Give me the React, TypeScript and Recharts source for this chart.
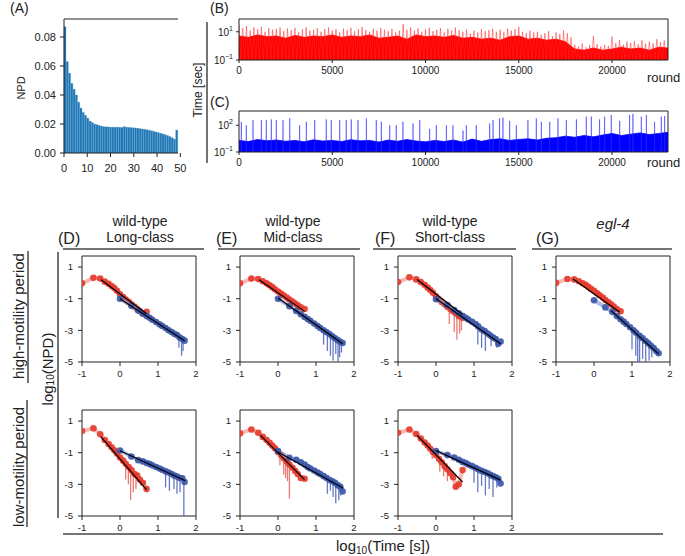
import React from 'react';
import { ComposedChart, Bar, Line, Area, Scatter, XAxis, YAxis, ReferenceLine } from 'recharts';

const FONT = '"Liberation Sans", Arial, Helvetica, sans-serif';
const INK = '#222';

// ---------- Panel A: NPD histogram (bins 0..50) ----------
const npdValues = [
  0.087, 0.063, 0.055, 0.048, 0.044, 0.040, 0.035, 0.031, 0.028, 0.026,
  0.024, 0.022, 0.021, 0.020, 0.0195, 0.019, 0.0185, 0.0182, 0.018, 0.018,
  0.0178, 0.0178, 0.0177, 0.0178, 0.0177, 0.0176, 0.0182, 0.0178, 0.0176, 0.0175,
  0.0174, 0.0172, 0.0170, 0.0168, 0.0165, 0.0163, 0.016, 0.0157, 0.0153, 0.0149,
  0.0145, 0.014, 0.0136, 0.0131, 0.0126, 0.012, 0.0113, 0.0105, 0.0095, 0.0158,
];
const npdTicks = [0, 0.02, 0.04, 0.06, 0.08];
const binTicks = [0, 10, 20, 30, 40, 50];

// ---------- Panel B: high-motility durations per round ----------
const B_PEAK_STEP = 200;
const bPeaks = [
  30, 18, 25, 12, 20, 15, 22, 10, 18, 14,
  16, 20, 11, 17, 13, 19, 9, 15, 21, 12,
  14, 18, 10, 16, 20, 12, 15, 9, 17, 13,
  19, 11, 15, 22, 13, 10, 16, 12, 18, 14,
  11, 16, 9, 12, 35, 14, 20, 12, 17, 10,
  15, 19, 11, 14, 18, 9, 16, 12, 20, 13,
  10, 14, 7, 12, 9, 15, 11, 13, 16, 10,
  14, 9, 17, 12, 15, 22, 10, 8, 12, 9,
  10, 6, 8, 11, 5, 9, 7, 12, 8, 4,
  1.2, 0.9, 1.5, 0.8, 1.1, 5, 1.3, 0.9, 1.2, 1.0,
  4.5, 1.5, 2.5, 1.2, 2, 1.6, 2.2, 1.3, 2.5, 1.4,
  2, 1.5, 3, 1.8, 2.4,
];
const CORE_STEP = 500;
const bCore = [
  5, 4, 6, 4.5, 5, 3.5, 5.5, 4, 5, 4.5, 6,
  4, 5, 4.5, 6, 3.5, 4, 5, 3, 6, 4.5,
  5, 4, 5.5, 3.5, 4, 3, 3.5, 2.5, 4.5, 5,
  3, 3.5, 2.5, 3, 2, 0.6, 0.5, 0.7, 0.5, 0.6,
  0.8, 0.6, 0.7, 0.5, 0.8, 0.7,
];
const FLOOR = 0.1;

// ---------- Panel C: low-motility durations per round ----------
const cCore = [
  2, 1.5, 2.5, 1.8, 2.2, 1.6, 2, 1.4, 2.3, 1.7, 2,
  1.5, 2.4, 1.8, 2, 1.3, 2.2, 1.6, 2.5, 1.7, 1.4,
  2, 1.5, 2.2, 1.3, 2.8, 1.6, 2.5, 3, 2, 2.6,
  3, 2.2, 3.5, 4, 6, 4.5, 7, 5, 8, 12,
  7, 10, 14, 9, 12, 16,
];
const cSpikes = [
  [125, 245], [393, 100], [750, 380], [1200, 380], [1465, 380], [1733, 460], [2000, 380],
  [2360, 380], [2720, 590], [3250, 100], [3610, 245], [4060, 380], [4680, 460], [4950, 380],
  [5400, 380], [5750, 380], [6020, 460], [6380, 380], [6830, 590], [7360, 380], [7630, 245],
  [8080, 100], [8430, 100], [8790, 245], [9330, 156], [9690, 380], [10220, 40], [10580, 100],
  [11120, 100], [11470, 100], [12010, 26], [12190, 100], [12720, 100], [13440, 156], [13620, 380],
  [13970, 590], [14150, 710], [14510, 316], [14870, 100], [15490, 380], [15940, 590], [16210, 245],
  [16660, 245], [17100, 590], [17550, 380], [18090, 460], [18620, 930], [18890, 930], [19330, 460],
  [19600, 930], [19960, 1450], [20410, 316], [20940, 1450], [21120, 1900], [21570, 930], [21840, 1450],
  [22280, 245], [22640, 930], [22820, 1120],
];
const roundTicks = [0, 5000, 10000, 15000, 20000];

// ---------- Panels D-G: log10(NPD) vs log10(Time) ----------
const redX = [-1, -0.7, -0.52, -0.4, -0.3, -0.22, -0.15, -0.08, 0, 0.08, 0.15, 0.23, 0.3, 0.38, 0.45, 0.52, 0.6, 0.7];
const blueX = [0, 0.3, 0.48, 0.6, 0.7, 0.78, 0.85, 0.95, 1.04, 1.11, 1.2, 1.28, 1.36, 1.43, 1.5, 1.57, 1.64, 1.7];
const logTimeTicks = [-1, 0, 1, 2];
const logNpdTicks = [-5, -3, -1, 1];

const dHighRed = [-0.03, 0.32, 0.27, 0.08, -0.05, -0.2, -0.33, -0.5, -0.72, -0.9, -1.05, -1.2, -1.35, -1.5, -1.65, -1.78, -1.95, -1.83];
const dHighBlue = [-1.0, -1.45, -1.75, -1.93, -2.1, -2.2, -2.33, -2.47, -2.62, -2.72, -2.85, -3.0, -3.1, -3.22, -3.3, -3.45, -3.55, -3.65];
const dHighRedDips: number[][] = [];
const dHighBlueDips = [[1.55, -3.42, -4.1], [1.62, -3.52, -4.6], [1.66, -3.58, -4.3]];
const dHighRedFit = [[-0.5, 0.2], [0.7, -1.95]];
const dHighBlueFit = [[0, -1.0], [1.7, -3.65]];

const eHighRed = [-0.03, 0.27, 0.24, 0.1, -0.03, -0.15, -0.27, -0.4, -0.55, -0.68, -0.8, -0.93, -1.05, -1.18, -1.3, -1.42, -1.55, -1.65];
const eHighBlue = [-1.0, -1.47, -1.78, -1.98, -2.15, -2.28, -2.4, -2.57, -2.72, -2.85, -3.0, -3.12, -3.25, -3.38, -3.5, -3.62, -3.72, -3.8];
const eHighRedDips: number[][] = [];
const eHighBlueDips = [[1.2, -3.0, -3.9], [1.3, -3.15, -4.3], [1.38, -3.28, -4.6], [1.45, -3.4, -4.9], [1.52, -3.52, -4.5], [1.58, -3.62, -5.2], [1.62, -3.7, -4.7], [1.67, -3.75, -4.4]];
const eHighRedFit = [[-0.5, 0.2], [0.7, -1.8]];
const eHighBlueFit = [[0, -0.95], [1.7, -3.85]];

const fHighRed = [0.05, 0.35, 0.22, 0.05, -0.12, -0.3, -0.45, -0.62, -0.85, -1.05, -1.2, -1.35, -1.5, -1.65, -1.8, -1.92, -2.1, -2.2];
const fHighBlue = [-1.03, -1.4, -1.72, -1.92, -2.08, -2.2, -2.32, -2.46, -2.6, -2.75, -2.95, -3.05, -3.2, -3.33, -3.45, -3.55, -3.85, -3.7];
const fHighRedDips = [[0.35, -1.6, -2.6], [0.48, -1.85, -3.1], [0.55, -1.98, -3.6], [0.62, -2.1, -3.2], [0.67, -2.15, -3.0]];
const fHighBlueDips = [[1.1, -2.73, -3.9], [1.2, -2.95, -4.1], [1.3, -3.08, -4.3], [1.45, -3.36, -4.0], [1.6, -3.6, -4.1]];
const fHighRedFit = [[-0.5, 0.22], [0.7, -2.0]];
const fHighBlueFit = [[0, -1.0], [1.7, -3.85]];

const gHighRed = [0.0, 0.25, 0.22, 0.1, -0.02, -0.12, -0.25, -0.38, -0.5, -0.65, -0.78, -0.92, -1.08, -1.22, -1.35, -1.5, -1.65, -1.8];
const gHighBlue = [-1.1, -1.55, -1.83, -2.1, -2.3, -2.45, -2.6, -2.8, -3.0, -3.15, -3.35, -3.5, -3.68, -3.82, -3.98, -4.12, -4.3, -4.45];
const gHighRedDips: number[][] = [];
const gHighBlueDips = [[1.0, -2.9, -4.2], [1.1, -3.13, -4.6], [1.15, -3.25, -5.2], [1.2, -3.35, -5.0], [1.28, -3.5, -4.8], [1.36, -3.68, -5.2], [1.45, -3.86, -4.9], [1.52, -4.0, -4.7]];
const gHighRedFit = [[-0.55, 0.24], [0.68, -1.85]];
const gHighBlueFit = [[0.45, -1.75], [1.7, -4.5]];

const dLowRed = [0.37, 0.54, 0.16, -0.2, -0.45, -0.65, -0.85, -1.05, -1.3, -1.5, -1.7, -1.9, -2.1, -2.35, -2.45, -2.7, -2.9, -3.3];
const dLowBlue = [-0.86, -1.24, -1.47, -1.55, -1.65, -1.72, -1.8, -1.9, -2.0, -2.08, -2.18, -2.25, -2.35, -2.45, -2.5, -2.6, -2.62, -2.85];
const dLowRedDips = [[0.15, -1.7, -2.7], [0.22, -1.88, -3.0], [0.28, -2.05, -4.0], [0.35, -2.25, -3.5], [0.42, -2.4, -3.3]];
const dLowBlueDips = [[1.2, -2.18, -3.2], [1.3, -2.27, -3.4], [1.42, -2.43, -3.3], [1.5, -2.5, -3.6], [1.58, -2.6, -3.5], [1.68, -2.7, -5.2]];
const dLowRedFit = [[-0.5, 0.0], [0.7, -3.35]];
const dLowBlueFit = [[0, -0.88], [1.72, -2.77]];

const eLowRed = [0.22, 0.47, 0.26, 0.0, -0.2, -0.38, -0.55, -0.72, -0.95, -1.15, -1.35, -1.55, -1.75, -1.95, -2.15, -2.35, -2.6, -2.65];
const eLowBlue = [-0.9, -1.32, -1.45, -1.6, -1.75, -1.9, -2.0, -2.12, -2.25, -2.35, -2.48, -2.6, -2.72, -2.8, -2.9, -3.05, -3.15, -3.45];
const eLowRedDips = [[0.05, -1.07, -1.8], [0.15, -1.35, -2.4], [0.2, -1.47, -2.6], [0.25, -1.6, -2.8], [0.3, -1.75, -3.9]];
const eLowBlueDips = [[1.3, -2.63, -3.6], [1.38, -2.74, -3.4], [1.45, -2.82, -3.8], [1.52, -2.95, -4.2], [1.6, -3.1, -4.0], [1.65, -3.2, -3.7]];
const eLowRedFit = [[-0.46, 0.1], [0.7, -2.7]];
const eLowBlueFit = [[0, -0.95], [1.72, -3.25]];

const fLowRed = [0.26, 0.47, 0.18, -0.1, -0.35, -0.55, -0.75, -0.95, -1.15, -1.4, -1.6, -1.85, -2.05, -2.3, -2.55, -3.15, -3.0, -2.1];
const fLowBlue = [-0.9, -1.15, -1.3, -1.45, -1.58, -1.65, -1.75, -1.85, -1.95, -2.05, -2.15, -2.22, -2.3, -2.4, -2.48, -2.55, -2.65, -2.95];
const fLowRedDips = [[-0.1, -1.0, -1.4], [0.1, -1.45, -2.2], [0.2, -1.75, -2.5], [0.3, -2.05, -2.8]];
const fLowBlueDips = [[1.0, -1.9, -2.9], [1.1, -2.04, -3.5], [1.2, -2.15, -3.1], [1.3, -2.24, -3.7], [1.4, -2.36, -3.3], [1.5, -2.48, -3.8], [1.6, -2.6, -3.2]];
const fLowRedFit = [[-0.5, 0.1], [0.7, -2.85]];
const fLowBlueFit = [[0, -0.87], [1.7, -2.73]];

// ---------- helpers ----------
const tickStyle = (size: number) => ({ fontSize: size, fill: INK, fontFamily: FONT });
const toPts = (xs: number[], ys: number[]) => xs.map((x, i) => ({ x, y: ys[i] }));
const pairPts = (p: number[][]) => p.map(([x, y]) => ({ x, y }));
const emptyShape = () => <g />;
const dotShape = (color: string) => (p: any) => (
  <circle cx={p.cx} cy={p.cy} r={3.3} fill={color} fillOpacity={0.9} />
);

const RED = '#e5392b';
const RED_LIGHT = '#f29a93';
const BLUE = '#3a55a8';
const BLUE_LIGHT = '#8d9fd8';

function PanelA() {
  const data = npdValues.map((v, i) => ({ bin: i, npd: v }));
  return (
    <div style={{ position: 'absolute', left: 0, top: 0 }}>
      <ComposedChart width={200} height={187} data={data} margin={{ top: 19, right: 22, bottom: 12, left: 0 }} barCategoryGap={0} barGap={0}>
        <XAxis dataKey="bin" type="category" hide height={0} />
        <XAxis xAxisId="num" type="number" domain={[0, 50]} ticks={binTicks} allowDataOverflow height={22}
          tickSize={4} tickMargin={7} tick={tickStyle(11)} stroke={INK} />
        <YAxis type="number" domain={[0, 0.0924]} allowDataOverflow ticks={npdTicks} width={64}
          tickFormatter={(v: number) => v.toFixed(2)} tickSize={4} tickMargin={4} tick={tickStyle(11)} stroke={INK} />
        <Bar dataKey="npd" fill="#1f77b4" stroke="#3a8cc6" strokeWidth={0.3} isAnimationActive={false} />
        <ReferenceLine y={0.0924} stroke={INK} />
        <ReferenceLine x={50} xAxisId="num" stroke={INK} />
      </ComposedChart>
    </div>
  );
}

const LogTick = (props: any) => {
  const { x, y, payload } = props;
  const exp = Math.round(Math.log10(payload.value));
  const label = exp < 0 ? '\u2212' + String(-exp) : String(exp);
  return (
    <text x={x} y={y} dy="0.4em" textAnchor="end" fontSize={10} fill={INK} fontFamily={FONT}>
      10<tspan dy={-5} fontSize={7}>{label}</tspan>
    </text>
  );
};

function TimeSeries(props: { top: number; yMax: number; yTicks: number[]; spikes: any[]; core: any[]; solid: string; light: string }) {
  const { top, yMax, yTicks, spikes, core, solid, light } = props;
  return (
    <div style={{ position: 'absolute', left: 200, top }}>
      <ComposedChart width={485} height={76} margin={{ top: 9, right: 17, bottom: 12, left: 0 }}>
        <XAxis dataKey="r" type="number" domain={[0, 23000]} allowDataOverflow ticks={roundTicks} height={14}
          tickSize={3} tickMargin={4} tick={tickStyle(10)} stroke={INK} />
        <YAxis dataKey="v" type="number" scale="log" domain={[FLOOR, yMax]} allowDataOverflow ticks={yTicks} width={39}
          tickSize={3} tickMargin={3} tick={<LogTick />} stroke={INK} />
        <Line data={spikes} dataKey="v" stroke={light} strokeWidth={1} dot={false} isAnimationActive={false} />
        <Area data={core} dataKey="v" baseValue="dataMin" stroke={solid} strokeWidth={0.8} fill={solid} fillOpacity={1} isAnimationActive={false} />
        <ReferenceLine y={yMax} stroke={INK} />
        <ReferenceLine x={23000} stroke={INK} />
      </ComposedChart>
    </div>
  );
}

function PanelB() {
  const spikes: any[] = [];
  bPeaks.forEach((v, i) => {
    spikes.push({ r: i * B_PEAK_STEP, v });
    spikes.push({ r: i * B_PEAK_STEP + B_PEAK_STEP / 2, v: FLOOR });
  });
  const core = bCore.map((v, i) => ({ r: i * CORE_STEP, v }));
  return <TimeSeries top={10} yMax={80} yTicks={[0.1, 10]} spikes={spikes} core={core} solid="#ff0000" light="rgba(255,40,40,0.5)" />;
}

function PanelC() {
  const spikes: any[] = [];
  cSpikes.forEach(([r, v]) => {
    spikes.push({ r: r - 15, v: FLOOR });
    spikes.push({ r, v });
    spikes.push({ r: r + 15, v: FLOOR });
  });
  const core = cCore.map((v, i) => ({ r: i * CORE_STEP, v }));
  return <TimeSeries top={102} yMax={4000} yTicks={[0.1, 100]} spikes={spikes} core={core} solid="#0000ff" light="rgba(40,40,255,0.5)" />;
}

type PanelCfg = {
  red: number[]; blue: number[]; redDips: number[][]; blueDips: number[][]; redFit: number[][]; blueFit: number[][];
};

function LogPanel(props: { left: number; top: number; cfg: PanelCfg }) {
  const { left, top, cfg } = props;
  const redPts = toPts(redX, cfg.red);
  const bluePts = toPts(blueX, cfg.blue);
  return (
    <div style={{ position: 'absolute', left: left - 30, top: top - 6 }}>
      <ComposedChart width={152} height={140} margin={{ top: 6, right: 8, bottom: 8, left: 0 }}>
        <XAxis dataKey="x" type="number" domain={[-1, 2]} ticks={logTimeTicks} allowDataOverflow height={20}
          tickSize={4} tickMargin={4} tick={tickStyle(9.5)} stroke={INK} />
        <YAxis dataKey="y" type="number" domain={[-5, 1.7]} ticks={logNpdTicks} allowDataOverflow width={30}
          tickSize={4} tickMargin={5} tick={tickStyle(9.5)} stroke={INK} />
        <ReferenceLine y={1.7} stroke={INK} />
        <ReferenceLine x={2} stroke={INK} />
        <Scatter data={redPts} dataKey="y" shape={emptyShape} line={{ stroke: RED_LIGHT, strokeWidth: 4, strokeOpacity: 0.7 }} isAnimationActive={false} />
        {cfg.redDips.map((d, i) => (
          <Scatter key={'rd' + i} data={[{ x: d[0], y: d[1] }, { x: d[0], y: d[2] }]} dataKey="y" shape={emptyShape}
            line={{ stroke: '#e9584c', strokeWidth: 1.3, strokeOpacity: 0.8 }} isAnimationActive={false} />
        ))}
        <Scatter data={redPts} dataKey="y" shape={dotShape(RED)} isAnimationActive={false} />
        <Scatter data={bluePts} dataKey="y" shape={emptyShape} line={{ stroke: BLUE_LIGHT, strokeWidth: 4, strokeOpacity: 0.7 }} isAnimationActive={false} />
        {cfg.blueDips.map((d, i) => (
          <Scatter key={'bd' + i} data={[{ x: d[0], y: d[1] }, { x: d[0], y: d[2] }]} dataKey="y" shape={emptyShape}
            line={{ stroke: '#4a62b8', strokeWidth: 1.3, strokeOpacity: 0.85 }} isAnimationActive={false} />
        ))}
        <Scatter data={bluePts} dataKey="y" shape={dotShape(BLUE)} isAnimationActive={false} />
        <Scatter data={pairPts(cfg.redFit)} dataKey="y" shape={emptyShape} line={{ stroke: '#000', strokeWidth: 1.2 }} isAnimationActive={false} />
        <Scatter data={pairPts(cfg.blueFit)} dataKey="y" shape={emptyShape} line={{ stroke: '#000', strokeWidth: 1.2 }} isAnimationActive={false} />
      </ComposedChart>
    </div>
  );
}

const panels: { left: number; top: number; cfg: PanelCfg }[] = [
  { left: 82, top: 256, cfg: { red: dHighRed, blue: dHighBlue, redDips: dHighRedDips, blueDips: dHighBlueDips, redFit: dHighRedFit, blueFit: dHighBlueFit } },
  { left: 240, top: 256, cfg: { red: eHighRed, blue: eHighBlue, redDips: eHighRedDips, blueDips: eHighBlueDips, redFit: eHighRedFit, blueFit: eHighBlueFit } },
  { left: 398, top: 256, cfg: { red: fHighRed, blue: fHighBlue, redDips: fHighRedDips, blueDips: fHighBlueDips, redFit: fHighRedFit, blueFit: fHighBlueFit } },
  { left: 556, top: 256, cfg: { red: gHighRed, blue: gHighBlue, redDips: gHighRedDips, blueDips: gHighBlueDips, redFit: gHighRedFit, blueFit: gHighBlueFit } },
  { left: 82, top: 410, cfg: { red: dLowRed, blue: dLowBlue, redDips: dLowRedDips, blueDips: dLowBlueDips, redFit: dLowRedFit, blueFit: dLowBlueFit } },
  { left: 240, top: 410, cfg: { red: eLowRed, blue: eLowBlue, redDips: eLowRedDips, blueDips: eLowBlueDips, redFit: eLowRedFit, blueFit: eLowBlueFit } },
  { left: 398, top: 410, cfg: { red: fLowRed, blue: fLowBlue, redDips: fLowRedDips, blueDips: fLowBlueDips, redFit: fLowRedFit, blueFit: fLowBlueFit } },
];

function Overlay() {
  const t = { fontFamily: FONT, fill: INK } as any;
  const rule = { stroke: '#444', strokeWidth: 1.5 };
  return (
    <svg width={685} height={556} style={{ position: 'absolute', left: 0, top: 0, pointerEvents: 'none' }}>
      <text x={10} y={13} fontSize={14} {...t}>(A)</text>
      <text transform="translate(21,88) rotate(-90)" textAnchor="middle" dominantBaseline="central" fontSize={11} {...t}>NPD</text>
      <text x={210} y={13} fontSize={14} {...t}>(B)</text>
      <text x={210} y={107} fontSize={14} {...t}>(C)</text>
      <text transform="translate(198,90) rotate(-90)" textAnchor="middle" dominantBaseline="central" fontSize={12} {...t}>Time [sec]</text>
      <line x1={207} y1={22} x2={207} y2={163} {...rule} />
      <text x={647} y={82} fontSize={13} {...t}>round</text>
      <text x={647} y={167} fontSize={13} {...t}>round</text>

      <text x={58} y={244} fontSize={16} {...t}>(D)</text>
      <text x={140} y={226} textAnchor="middle" fontSize={14} {...t}>wild-type</text>
      <text x={140} y={242} textAnchor="middle" fontSize={14} {...t}>Long-class</text>
      <text x={216} y={244} fontSize={16} {...t}>(E)</text>
      <text x={293} y={226} textAnchor="middle" fontSize={14} {...t}>wild-type</text>
      <text x={293} y={242} textAnchor="middle" fontSize={14} {...t}>Mid-class</text>
      <text x={375} y={244} fontSize={16} {...t}>(F)</text>
      <text x={450} y={226} textAnchor="middle" fontSize={14} {...t}>wild-type</text>
      <text x={450} y={242} textAnchor="middle" fontSize={14} {...t}>Short-class</text>
      <text x={536} y={244} fontSize={16} {...t}>(G)</text>
      <text x={613} y={229} textAnchor="middle" fontSize={15} fontStyle="italic" {...t}>egl-4</text>
      <line x1={63} y1={249} x2={204} y2={249} {...rule} />
      <line x1={218} y1={249} x2={360} y2={249} {...rule} />
      <line x1={373} y1={249} x2={516} y2={249} {...rule} />
      <line x1={532} y1={249} x2={672} y2={249} {...rule} />

      <text transform="translate(18,316) rotate(-90)" textAnchor="middle" dominantBaseline="central" fontSize={15} {...t}>high-motility period</text>
      <line x1={28} y1={251} x2={28} y2={383} {...rule} />
      <text transform="translate(18,467) rotate(-90)" textAnchor="middle" dominantBaseline="central" fontSize={15} {...t}>low-motility period</text>
      <line x1={27} y1={400} x2={27} y2={527} {...rule} />

      <text transform="translate(47,369) rotate(-90)" textAnchor="middle" dominantBaseline="central" fontSize={15} {...t}>
        log<tspan fontSize={10} dy={3}>10</tspan><tspan dy={-3}>(NPD)</tspan>
      </text>
      <line x1={58} y1={252} x2={58} y2={518} {...rule} />

      <line x1={63} y1={534} x2={663} y2={534} {...rule} />
      <text x={383} y={551} textAnchor="middle" fontSize={15} {...t}>
        log<tspan fontSize={10} dy={3}>10</tspan><tspan dy={-3}>(Time [s])</tspan>
      </text>
    </svg>
  );
}

export default function App() {
  return (
    <div style={{ position: 'absolute', left: 0, top: 0, width: 685, height: 556, background: '#fff', fontFamily: FONT, overflow: 'hidden' }}>
      <PanelA />
      <PanelB />
      <PanelC />
      {panels.map((p, i) => (
        <LogPanel key={i} left={p.left} top={p.top} cfg={p.cfg} />
      ))}
      <Overlay />
    </div>
  );
}
